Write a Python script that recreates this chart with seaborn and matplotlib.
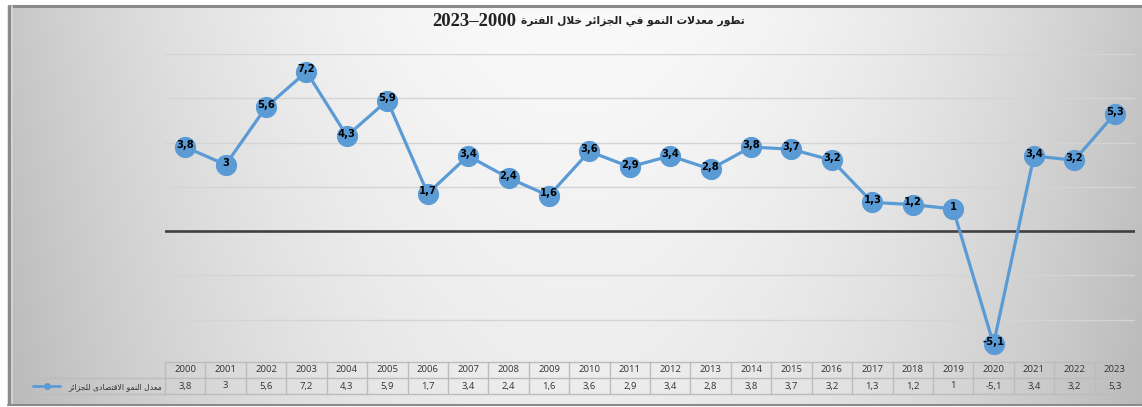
import numpy as np
import pandas as pd
import matplotlib
matplotlib.use("Agg")
import matplotlib.pyplot as plt
import seaborn as sns
from matplotlib.patches import Rectangle

years = ["2000", "2001", "2002", "2003", "2004", "2005", "2006", "2007", "2008", "2009",
         "2010", "2011", "2012", "2013", "2014", "2015", "2016", "2017", "2018", "2019",
         "2020", "2021", "2022", "2023"]
growth = [3.8, 3.0, 5.6, 7.2, 4.3, 5.9, 1.7, 3.4, 2.4, 1.6,
          3.6, 2.9, 3.4, 2.8, 3.8, 3.7, 3.2, 1.3, 1.2, 1.0,
          -5.1, 3.4, 3.2, 5.3]
title_ar = "تطور معدلات النمو في الجزائر خلال الفترة"
title_num = "2023–2000"
series_name = "معدل النمو الاقتصادى للجزائر"

# ---- minimal Arabic shaping (presentation forms) ----
FORMS = {
    'ا': (0xFE8D, 0xFE8E, None, None), 'ت': (0xFE95, 0xFE96, 0xFE97, 0xFE98),
    'ة': (0xFE93, 0xFE94, None, None), 'ج': (0xFE9D, 0xFE9E, 0xFE9F, 0xFEA0),
    'خ': (0xFEA5, 0xFEA6, 0xFEA7, 0xFEA8), 'د': (0xFEA9, 0xFEAA, None, None),
    'ر': (0xFEAD, 0xFEAE, None, None), 'ز': (0xFEAF, 0xFEB0, None, None),
    'ص': (0xFEB9, 0xFEBA, 0xFEBB, 0xFEBC), 'ط': (0xFEC1, 0xFEC2, 0xFEC3, 0xFEC4),
    'ع': (0xFEC9, 0xFECA, 0xFECB, 0xFECC), 'ف': (0xFED1, 0xFED2, 0xFED3, 0xFED4),
    'ق': (0xFED5, 0xFED6, 0xFED7, 0xFED8), 'ل': (0xFEDD, 0xFEDE, 0xFEDF, 0xFEE0),
    'م': (0xFEE1, 0xFEE2, 0xFEE3, 0xFEE4), 'ن': (0xFEE5, 0xFEE6, 0xFEE7, 0xFEE8),
    'و': (0xFEED, 0xFEEE, None, None), 'ى': (0xFEEF, 0xFEF0, None, None),
    'ي': (0xFEF1, 0xFEF2, 0xFEF3, 0xFEF4), 'ئ': (0xFE89, 0xFE8A, 0xFE8B, 0xFE8C),
}


def shape(text):
    chars = list(text)
    out = []
    i = 0
    n = len(chars)
    while i < n:
        c = chars[i]
        if c not in FORMS:
            out.append(c)
            i += 1
            continue
        prev = chars[i - 1] if i > 0 else None
        jp = prev in FORMS and FORMS[prev][2] is not None
        if c == 'ل' and i + 1 < n and chars[i + 1] == 'ا':
            out.append(chr(0xFEFC if jp else 0xFEFB))
            i += 2
            continue
        nxt = chars[i + 1] if i + 1 < n else None
        jn = FORMS[c][2] is not None and nxt in FORMS
        f = FORMS[c]
        if jp and jn:
            g = f[3]
        elif jp:
            g = f[1]
        elif jn:
            g = f[2]
        else:
            g = f[0]
        out.append(chr(g))
        i += 1
    return "".join(out)


def visual(text):
    return shape(text)[::-1]


W, H = 1142, 407
fig = plt.figure(figsize=(W / 100, H / 100), dpi=100)
sns.set_style("white")

# background gradient with frame
bg = fig.add_axes([0, 0, 1, 1], zorder=-5)
xs = np.arange(W)
ys = np.arange(H)
X, Y = np.meshgrid(xs, ys)
val = 250 - 52 * ((X - 575) / 575.0) ** 2 - 14 * (Y / H)
img = np.clip(val / 255.0, 0, 1)
rgb = np.dstack([img, img, img])
bg.imshow(rgb, extent=(0, W, H, 0), aspect="auto", interpolation="bilinear")
bg.set_xlim(0, W)
bg.set_ylim(H, 0)
bg.add_patch(Rectangle((0, 0), W, 5, color="white", zorder=2))
bg.add_patch(Rectangle((0, 0), 8, H, color="white", zorder=2))
bg.add_patch(Rectangle((0, 405), W, 5, color="white", zorder=2))
bg.plot([8, W], [5.5, 5.5], color="#8a8a8a", lw=2.2, zorder=3, solid_capstyle="butt")
bg.plot([9, 9], [5, 405], color="#8a8a8a", lw=2.5, zorder=3, solid_capstyle="butt")
bg.plot([11.5, 11.5], [6, 404], color="#d8d8d8", lw=1.2, zorder=3)
bg.plot([8, W], [404.5, 404.5], color="#8a8a8a", lw=1.5, zorder=3)
bg.axis("off")

# main axes
L, R, T, B = 165, 1135, 54, 364
ax = fig.add_axes([L / W, (H - B) / H, (R - L) / W, (B - T) / H])
ax.set_facecolor("none")
df = pd.DataFrame({"idx": np.arange(len(years)), "growth": growth})
for g in [8, 6, 4, 2, -2, -4]:
    ax.axhline(g, color="#d4d4d4", lw=1.0, zorder=0)
ax.axhline(0, color="#404040", lw=1.9, zorder=1)
sns.lineplot(data=df, x="idx", y="growth", ax=ax, color="#5B9BD5", lw=2.3,
             marker="o", markersize=14.5, markeredgecolor="#5B9BD5",
             markerfacecolor="#5B9BD5", zorder=3)
for i, v in enumerate(growth):
    lab = ("%g" % v).replace(".", ",")
    ax.text(i, v + 0.1, lab, ha="center", va="center", fontsize=7.2,
            fontweight="bold", color="black", zorder=4, family="DejaVu Sans")
ax.set_xlim(-0.5, len(years) - 0.5)
ax.set_ylim(-6, 8)
ax.set_xlabel("")
ax.set_ylabel("")
ax.set_xticks([])
ax.set_yticks([])
for s in ax.spines.values():
    s.set_visible(False)

# data table
TT, TB = 362, 394
tab = fig.add_axes([L / W, (H - TB) / H, (R - L) / W, (TB - TT) / H], sharex=ax)
tab.set_facecolor("none")
tab.set_ylim(0, 2)
tab.axis("off")
bc = "#bcbcbc"
n = len(years)
for yv in [0, 1, 2]:
    tab.plot([-0.5, n - 0.5], [yv, yv], color=bc, lw=1.0, clip_on=False)
for k in range(n + 1):
    tab.plot([k - 0.5, k - 0.5], [0, 2], color=bc, lw=1.0, clip_on=False)
colw = (R - L) / n
xleft = -0.5 - (L - 30) / colw
tab.plot([xleft, -0.5], [0, 0], color=bc, lw=1.0, clip_on=False)
tab.plot([xleft, -0.5], [1, 1], color=bc, lw=1.0, clip_on=False)
tab.plot([xleft, xleft], [0, 1], color=bc, lw=1.0, clip_on=False)
for i, (yr, v) in enumerate(zip(years, growth)):
    tab.text(i, 1.5, yr, ha="center", va="center", fontsize=6.8, color="#333333",
             family="Open Sans")
    tab.text(i, 0.5, ("%g" % v).replace(".", ","), ha="center", va="center",
             fontsize=6.8, color="#333333", family="Open Sans")
# legend key in table
kx0 = -0.5 - (L - 33) / colw
kx1 = -0.5 - (L - 60) / colw
tab.plot([kx0, kx1], [0.5, 0.5], color="#5B9BD5", lw=2.0, clip_on=False)
tab.plot([(kx0 + kx1) / 2], [0.5], marker="o", markersize=4, color="#5B9BD5",
         clip_on=False)
tab.text(-0.5 - 3 / colw, 0.48, visual(series_name), ha="right", va="center",
         fontsize=5.6, color="#333333", family="DejaVu Sans")

# title: number part (serif) and Arabic part
fig.text(516 / W, 1 - 22 / H, title_num, ha="right", va="center",
         fontsize=13.5, fontweight="bold", color="#222222",
         family=["Liberation Serif", "DejaVu Sans"])
fig.text(521 / W, 1 - 21 / H, visual(title_ar), ha="left", va="center",
         fontsize=7.7, fontweight="bold", color="#222222",
         family=["DejaVu Sans"])

fig.savefig("out.png", dpi=100)
